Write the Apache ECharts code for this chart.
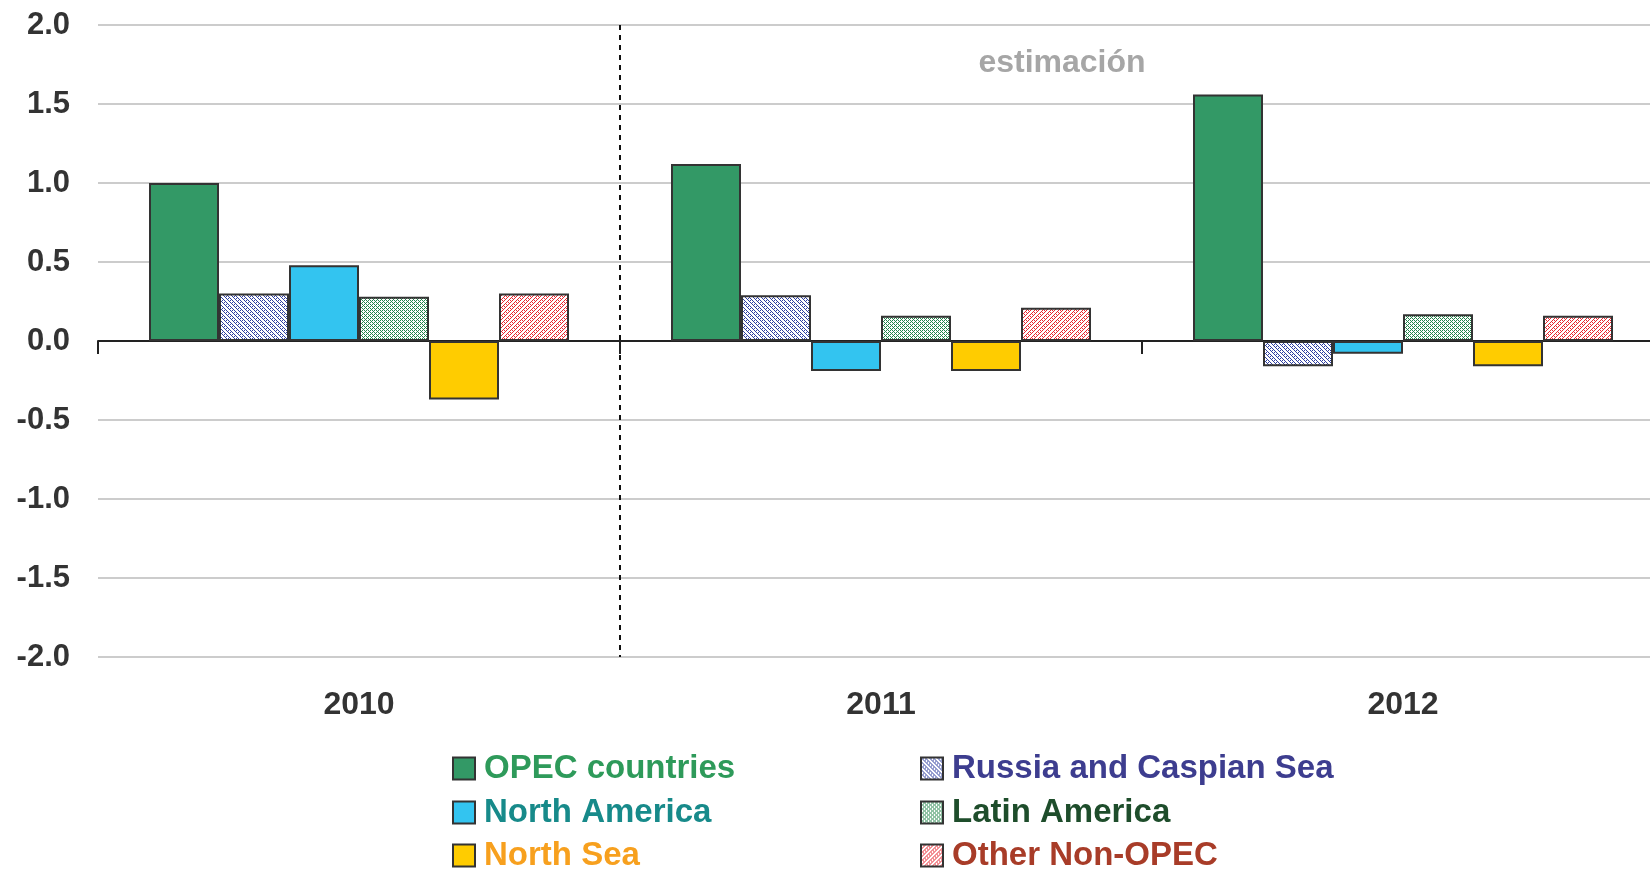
<!DOCTYPE html>
<html>
<head>
<meta charset="utf-8">
<script src="https://cdn.jsdelivr.net/npm/echarts@6/dist/echarts.min.js"></script>
<style>
html,body{margin:0;padding:0;background:#fff;}
#chart{width:1650px;height:869px;}
</style>
</head>
<body>
<div id="chart"></div>
<script>
const categories = ['2010', '2011', '2012'];
const seriesNames = ['OPEC countries', 'Russia and Caspian Sea', 'North America', 'Latin America', 'North Sea', 'Other Non-OPEC'];
const opec = [1.00, 1.12, 1.56];
const russia = [0.30, 0.29, -0.16];
const northAmerica = [0.48, -0.19, -0.08];
const latinAmerica = [0.28, 0.16, 0.17];
const northSea = [-0.37, -0.19, -0.16];
const otherNonOpec = [0.30, 0.21, 0.16];
const yTicks = [-2, -1.5, -1, -0.5, 0, 0.5, 1, 1.5, 2];
const annotation = 'estimación';

const FONT = '"Liberation Sans", Arial, sans-serif';

function makePattern(color, kind) {
  const n = 8;
  const c = document.createElement('canvas');
  c.width = n; c.height = n;
  const ctx = c.getContext('2d');
  ctx.fillStyle = '#ffffff';
  ctx.fillRect(0, 0, n, n);
  ctx.fillStyle = color;
  for (let x = 0; x < n; x++) {
    for (let y = 0; y < n; y++) {
      let on = false;
      if (kind === 'back') on = ((x - y + n) % 4 === 0) || ((x - y + n) % 8 === 2 && y % 2 === 0);
      else if (kind === 'fwd') on = ((x + y) % 4 === 0) || ((x + y) % 8 === 2 && x % 2 === 0);
      else if (kind === 'grid') on = ((x + y) % 4 === 0 && x % 2 === 0) || ((x - y + n) % 4 === 2) || (x % 4 === 0 && y % 4 === 0);
      if (on) ctx.fillRect(x, y, 1, 1);
    }
  }
  return { image: c, repeat: 'repeat' };
}

const fills = [
  '#339966',
  makePattern('#2f3fa0', 'back'),
  '#33c4f0',
  makePattern('#23854c', 'grid'),
  '#ffcc00',
  makePattern('#e8262f', 'fwd')
];
const values = [opec, russia, northAmerica, latinAmerica, northSea, otherNonOpec];
const textColors = ['#2e9a5a', '#3d3d8f', '#178a8a', '#1e4d2b', '#f7a01e', '#a83c28'];

// legend slot for each series: [column, row]
const legendSlots = [[0, 0], [1, 0], [0, 1], [1, 1], [0, 2], [1, 2]];
const legendColumnLeft = [452, 920];
const legendRowCenter = [768, 812, 855];

const chart = echarts.init(document.getElementById('chart'));

const legends = seriesNames.map((name, i) => ({
  data: [{ name: name, textStyle: { color: textColors[i] } }],
  orient: 'horizontal',
  left: legendColumnLeft[legendSlots[i][0]],
  top: legendRowCenter[legendSlots[i][1]] - 16,
  padding: 0,
  itemWidth: 22, itemHeight: 22,
  icon: 'rect',
  selectedMode: false,
  textStyle: { fontSize: 33, fontWeight: 'bold', fontFamily: FONT, lineHeight: 32, padding: [0, 0, 0, 4] }
}));

const option = {
  animation: false,
  backgroundColor: '#ffffff',
  grid: { left: 98, right: -14, top: 25, bottom: 212, containLabel: false, outerBoundsMode: 'none' },
  legend: legends,
  xAxis: [
    {
      type: 'category', data: categories, position: 'bottom',
      axisLine: { show: false, onZero: false },
      axisTick: { show: false },
      splitLine: { show: false },
      axisLabel: { margin: 32, fontSize: 32, fontWeight: 'bold', color: '#333', fontFamily: FONT }
    },
    {
      type: 'category', data: categories, position: 'bottom',
      axisLine: { show: true, onZero: true, lineStyle: { color: '#222', width: 2 } },
      axisTick: { show: true, length: 13, lineStyle: { color: '#222', width: 2 } },
      axisLabel: { show: false },
      splitLine: { show: true, interval: 0, lineStyle: { type: [5, 5], color: ['rgba(0,0,0,0)', '#111', 'rgba(0,0,0,0)', 'rgba(0,0,0,0)'], width: 2 } }
    }
  ],
  yAxis: {
    type: 'value', min: yTicks[0], max: yTicks[yTicks.length - 1], interval: 0.5,
    axisLine: { show: false }, axisTick: { show: false },
    axisLabel: { margin: 28, fontSize: 31, fontWeight: 'bold', color: '#333', fontFamily: FONT, formatter: v => v.toFixed(1) },
    splitLine: { lineStyle: { color: '#cccccc', width: 2 } }
  },
  graphic: [
    { type: 'text', x: 1062, y: 63, style: { text: annotation, fill: '#a6a6a6', font: 'bold 32px ' + FONT, textAlign: 'center', textVerticalAlign: 'middle' } }
  ],
  series: seriesNames.map((name, i) => ({
    name: name,
    type: 'bar',
    xAxisIndex: 0,
    data: values[i],
    barWidth: 70,
    barGap: '0%',
    itemStyle: { color: fills[i], borderColor: '#333', borderWidth: 2 }
  }))
};
chart.setOption(option);
</script>
</body>
</html>
